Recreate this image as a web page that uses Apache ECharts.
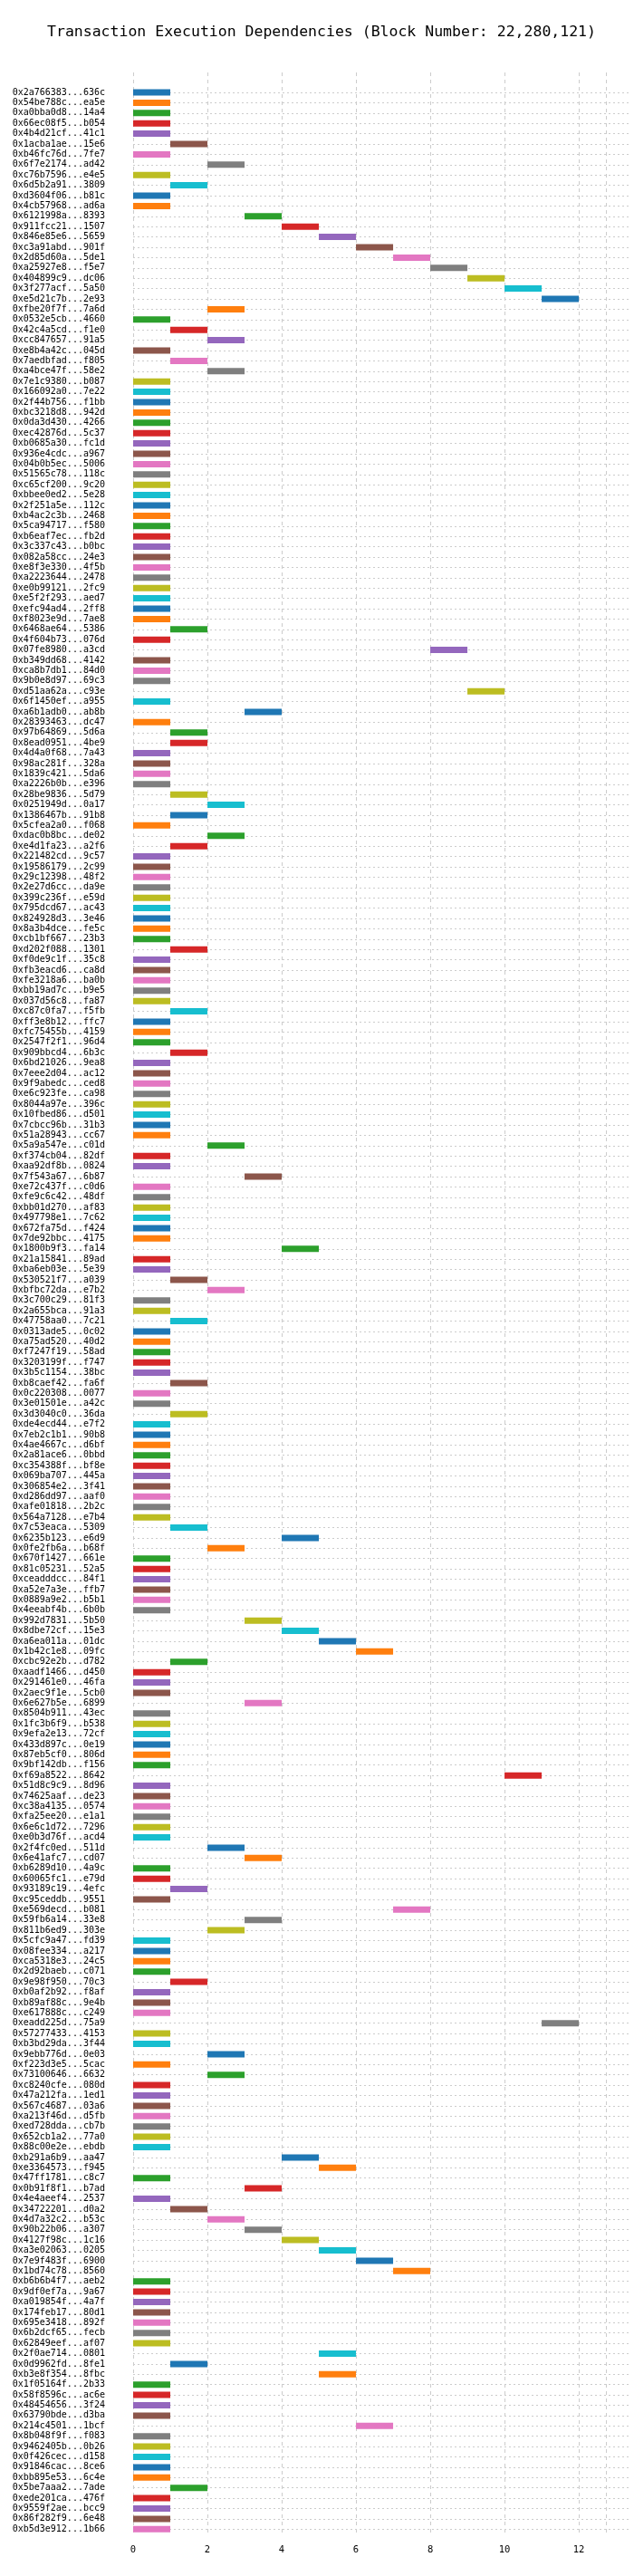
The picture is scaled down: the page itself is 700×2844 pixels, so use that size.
<!DOCTYPE html>
<html>
<head>
<meta charset="utf-8">
<script src="https://cdn.jsdelivr.net/npm/echarts@6/dist/echarts.min.js"></script>
<style>html,body{margin:0;padding:0;background:#fff}#chart{width:700px;height:2844px}</style>
</head>
<body>
<div id="chart"></div>
<script>
var txHashes = [
  '0x2a766383...636c','0x54be788c...ea5e','0xa0bba0d8...14a4','0x66ec08f5...b054','0x4b4d21cf...41c1','0x1acba1ae...15e6','0xb46fc76d...7fe7','0x6f7e2174...ad42','0xc76b7596...e4e5',
  '0x6d5b2a91...3809','0xd3604f06...b81c','0x4cb57968...ad6a','0x6121998a...8393','0x911fcc21...1507','0x846e85e6...5659','0xc3a91abd...901f','0x2d85d60a...5de1','0xa25927e8...f5e7','0x404899c9...dc06','0x3f277acf...5a50','0xe5d21c7b...2e93','0xfbe20f7f...7a6d','0x0532e5cb...4660',
  '0x42c4a5cd...f1e0','0xcc847657...91a5','0xe8b4a42c...045d','0x7aedbfad...f805','0xa4bce47f...58e2','0x7e1c9380...b087','0x166092a0...7e22','0x2f44b756...f1bb','0xbc3218d8...942d','0x0da3d430...4266','0xec42876d...5c37','0xb0685a30...fc1d','0x936e4cdc...a967',
  '0x04b0b5ec...5006','0x51565c78...118c','0xc65cf200...9c20','0xbbee0ed2...5e28','0x2f251a5e...112c','0xb4ac2c3b...2468','0x5ca94717...f580','0xb6eaf7ec...fb2d','0x3c337c43...b0bc','0x082a58cc...24e3','0xe8f3e330...4f5b','0xa2223644...2478','0xe0b99121...2fc9','0xe5f2f293...aed7',
  '0xefc94ad4...2ff8','0xf8023e9d...7ae8','0x6468ae64...5386','0x4f604b73...076d','0x07fe8980...a3cd','0xb349dd68...4142','0xca8b7db1...84d0','0x9b0e8d97...69c3','0xd51aa62a...c93e','0x6f1450ef...a955','0xa6b1adb0...ab8b','0x28393463...dc47','0x97b64869...5d6a',
  '0x8ead0951...4be9','0x4d4a0f68...7a43','0x98ac281f...328a','0x1839c421...5da6','0xa2226b0b...e396','0x28be9836...5d79','0x0251949d...0a17','0x1386467b...91b8','0x5cfea2a0...f068','0xdac0b8bc...de02','0xe4d1fa23...a2f6','0x221482cd...9c57','0x19586179...2c99','0x29c12398...48f2',
  '0x2e27d6cc...da9e','0x399c236f...e59d','0x795dcd67...ac43','0x824928d3...3e46','0x8a3b4dce...fe5c','0xcb1bf667...23b3','0xd202f088...1301','0xf0de9c1f...35c8','0xfb3eacd6...ca8d','0xfe3218a6...ba0b','0xbb19ad7c...b9e5','0x037d56c8...fa87','0xc87c0fa7...f5fb',
  '0xff3e8b12...ffc7','0xfc75455b...4159','0x2547f2f1...96d4','0x909bbcd4...6b3c','0x6bd21026...9ea8','0x7eee2d04...ac12','0x9f9abedc...ced8','0xe6c923fe...ca98','0x8044a97e...396c','0x10fbed86...d501','0x7cbcc96b...31b3','0x51a28943...cc67','0x5a9a547e...c01d','0xf374cb04...82df',
  '0xaa92df8b...0824','0x7f543a67...6b87','0xe72c437f...c0d6','0xfe9c6c42...48df','0xbb01d270...af83','0x497798e1...7c62','0x672fa75d...f424','0x7de92bbc...4175','0x1800b9f3...fa14','0x21a15841...89ad','0xba6eb03e...5e39','0x530521f7...a039','0xbfbc72da...e7b2','0x3c700c29...81f3',
  '0x2a655bca...91a3','0x47758aa0...7c21','0x0313ade5...0c02','0xa75ad520...40d2','0xf7247f19...58ad','0x3203199f...f747','0x3b5c1154...38bc','0xb8caef42...fa6f','0x0c220308...0077','0x3e01501e...a42c','0x3d3040c0...36da','0xde4ecd44...e7f2','0x7eb2c1b1...90b8',
  '0x4ae4667c...d6bf','0x2a81ace6...0bbd','0xc354388f...bf8e','0x069ba707...445a','0x306854e2...3f41','0xd286dd97...aaf0','0xafe01818...2b2c','0x564a7128...e7b4','0x7c53eaca...5309','0x6235b123...e6d9','0x0fe2fb6a...b68f','0x670f1427...661e','0x81c05231...52a5','0xceadddcc...84f1',
  '0xa52e7a3e...ffb7','0x0889a9e2...b5b1','0x4eeabf4b...6b0b','0x992d7831...5b50','0x8dbe72cf...15e3','0xa6ea011a...01dc','0x1b42c1e8...09fc','0xcbc92e2b...d782','0xaadf1466...d450','0x291461e0...46fa','0x2aec9f1e...5cb0','0x6e627b5e...6899','0x8504b911...43ec','0x1fc3b6f9...b538',
  '0x9efa2e13...72cf','0x433d897c...0e19','0x87eb5cf0...806d','0x9bf142db...f156','0xf69a8522...8642','0x51d8c9c9...8d96','0x74625aaf...de23','0xc38a4135...0574','0xfa25ee20...e1a1','0x6e6c1d72...7296','0xe0b3d76f...acd4','0x2f4fc0ed...511d','0x6e41afc7...cd07',
  '0xb6289d10...4a9c','0x60065fc1...e79d','0x93189c19...4efc','0xc95ceddb...9551','0xe569decd...b081','0x59fb6a14...33e8','0x811b6ed9...303e','0x5cfc9a47...fd39','0x08fee334...a217','0xca5318e3...24c5','0x2d92baeb...c071','0x9e98f950...70c3','0xb0af2b92...f8af','0xb89af88c...9e4b',
  '0xe617888c...c249','0xeadd225d...75a9','0x57277433...4153','0xb3bd29da...3f44','0x9ebb776d...0e03','0xf223d3e5...5cac','0x73100646...6632','0xc8240cfe...080d','0x47a212fa...1ed1','0x567c4687...03a6','0xa213f46d...d5fb','0xed728dda...cb7b','0x652cb1a2...77a0',
  '0x88c00e2e...ebdb','0xb291a6b9...aa47','0xe3364573...f945','0x47ff1781...c8c7','0x0b91f8f1...b7ad','0x4e4aeef4...2537','0x34722201...d0a2','0x4d7a32c2...b53c','0x90b22b06...a307','0x4127f98c...1c16','0xa3e02063...0205','0x7e9f483f...6900','0x1bd74c78...8560','0xb6b6b4f7...aeb2',
  '0x9df0ef7a...9a67','0xa019854f...4a7f','0x174feb17...80d1','0x695e3418...892f','0x6b2dcf65...fecb','0x62849eef...af07','0x2f0ae714...0801','0x0d9962fd...8fe1','0xb3e8f354...8fbc','0x1f05164f...2b33','0x58f8596c...ac6e','0x48454656...3f24','0x63790bde...d3ba','0x214c4501...1bcf',
  '0x8b048f9f...f083','0x9462405b...0b26','0x0f426cec...d158','0x91846cac...8ce6','0xbb895e53...6c4e','0x5be7aaa2...7ade','0xede201ca...476f','0x9559f2ae...bcc9','0x86f282f9...6e48','0xb5d3e912...1b66'
];

var startTimes = [
  0,0,0,0,0,1,0,2,0,
  1,0,0,3,4,5,6,7,8,9,10,11,2,0,
  1,2,0,1,2,0,0,0,0,0,0,0,0,
  0,0,0,0,0,0,0,0,0,0,0,0,0,0,
  0,0,1,0,8,0,0,0,9,0,3,0,1,
  1,0,0,0,0,1,2,1,0,2,1,0,0,0,
  0,0,0,0,0,0,1,0,0,0,0,0,1,
  0,0,0,1,0,0,0,0,0,0,0,0,2,0,
  0,3,0,0,0,0,0,0,4,0,0,1,2,0,
  0,1,0,0,0,0,0,1,0,0,1,0,0,
  0,0,0,0,0,0,0,0,1,4,2,0,0,0,
  0,0,0,3,4,5,6,1,0,0,0,3,0,0,
  0,0,0,0,10,0,0,0,0,0,0,2,3,
  0,0,1,0,7,3,2,0,0,0,0,1,0,0,
  0,11,0,0,2,0,2,0,0,0,0,0,0,
  0,4,5,0,3,0,1,2,3,4,5,6,7,0,
  0,0,0,0,0,0,5,1,5,0,0,0,0,6,
  0,0,0,0,0,1,0,0,0,0
];

var durations = txHashes.map(function () { return 1; });
var xTicks = [0, 2, 4, 6, 8, 10, 12];

var palette = ['#1f77b4','#ff7f0e','#2ca02c','#d62728','#9467bd','#8c564b','#e377c2','#7f7f7f','#bcbd22','#17becf'];
var mono = 'DejaVu Sans Mono';
var xMax = 12.73;
var pxPerUnit = (639 - 147) / 12;

var chart = echarts.init(document.getElementById('chart'));
chart.setOption({
  animation: false,
  title: {
    text: 'Transaction Execution Dependencies (Block Number: 22,280,121)',
    left: 350, textAlign: 'center', top: 22,
    textStyle: { fontFamily: mono, fontSize: 16.5, fontWeight: 'normal', color: '#000' }
  },
  grid: [
    { left: 147, right: 31, top: 80, bottom: 44 },
    { left: 122, right: 31, top: 96.3, bottom: 46 }
  ],
  xAxis: [
    {
      gridIndex: 0, type: 'value', min: 0, max: xMax, interval: 2,
      axisLine: { show: false }, axisTick: { show: false },
      axisLabel: {
        fontFamily: mono, fontSize: 10.5, color: '#000', margin: 10,
        formatter: function (v) { return xTicks.indexOf(v) >= 0 ? String(v) : ''; }
      },
      splitLine: { show: true, lineStyle: { color: '#cccccc', type: [4, 4], width: 1 } }
    },
    {
      gridIndex: 1, type: 'value', min: -25 / pxPerUnit, max: xMax, show: false
    }
  ],
  yAxis: [
    { gridIndex: 0, type: 'value', show: false },
    {
      gridIndex: 1, type: 'category', inverse: true, data: txHashes,
      axisLine: { show: false },
      axisTick: { show: true, inside: true, alignWithLabel: true, length: 547,
                  lineStyle: { color: '#cccccc', type: [2, 3], width: 1 } },
      axisLabel: { fontFamily: mono, fontSize: 10, color: '#000', margin: 6, interval: 0 },
      splitLine: { show: false }
    }
  ],
  series: [
    {
      type: 'bar', xAxisIndex: 1, yAxisIndex: 1, stack: 'gantt', barWidth: 7,
      itemStyle: { color: 'transparent' }, silent: true,
      data: startTimes
    },
    {
      type: 'bar', xAxisIndex: 1, yAxisIndex: 1, stack: 'gantt', barWidth: 7,
      data: durations.map(function (d, i) {
        return { value: d, itemStyle: { color: palette[i % 10] } };
      })
    }
  ]
});
</script>
</body>
</html>
